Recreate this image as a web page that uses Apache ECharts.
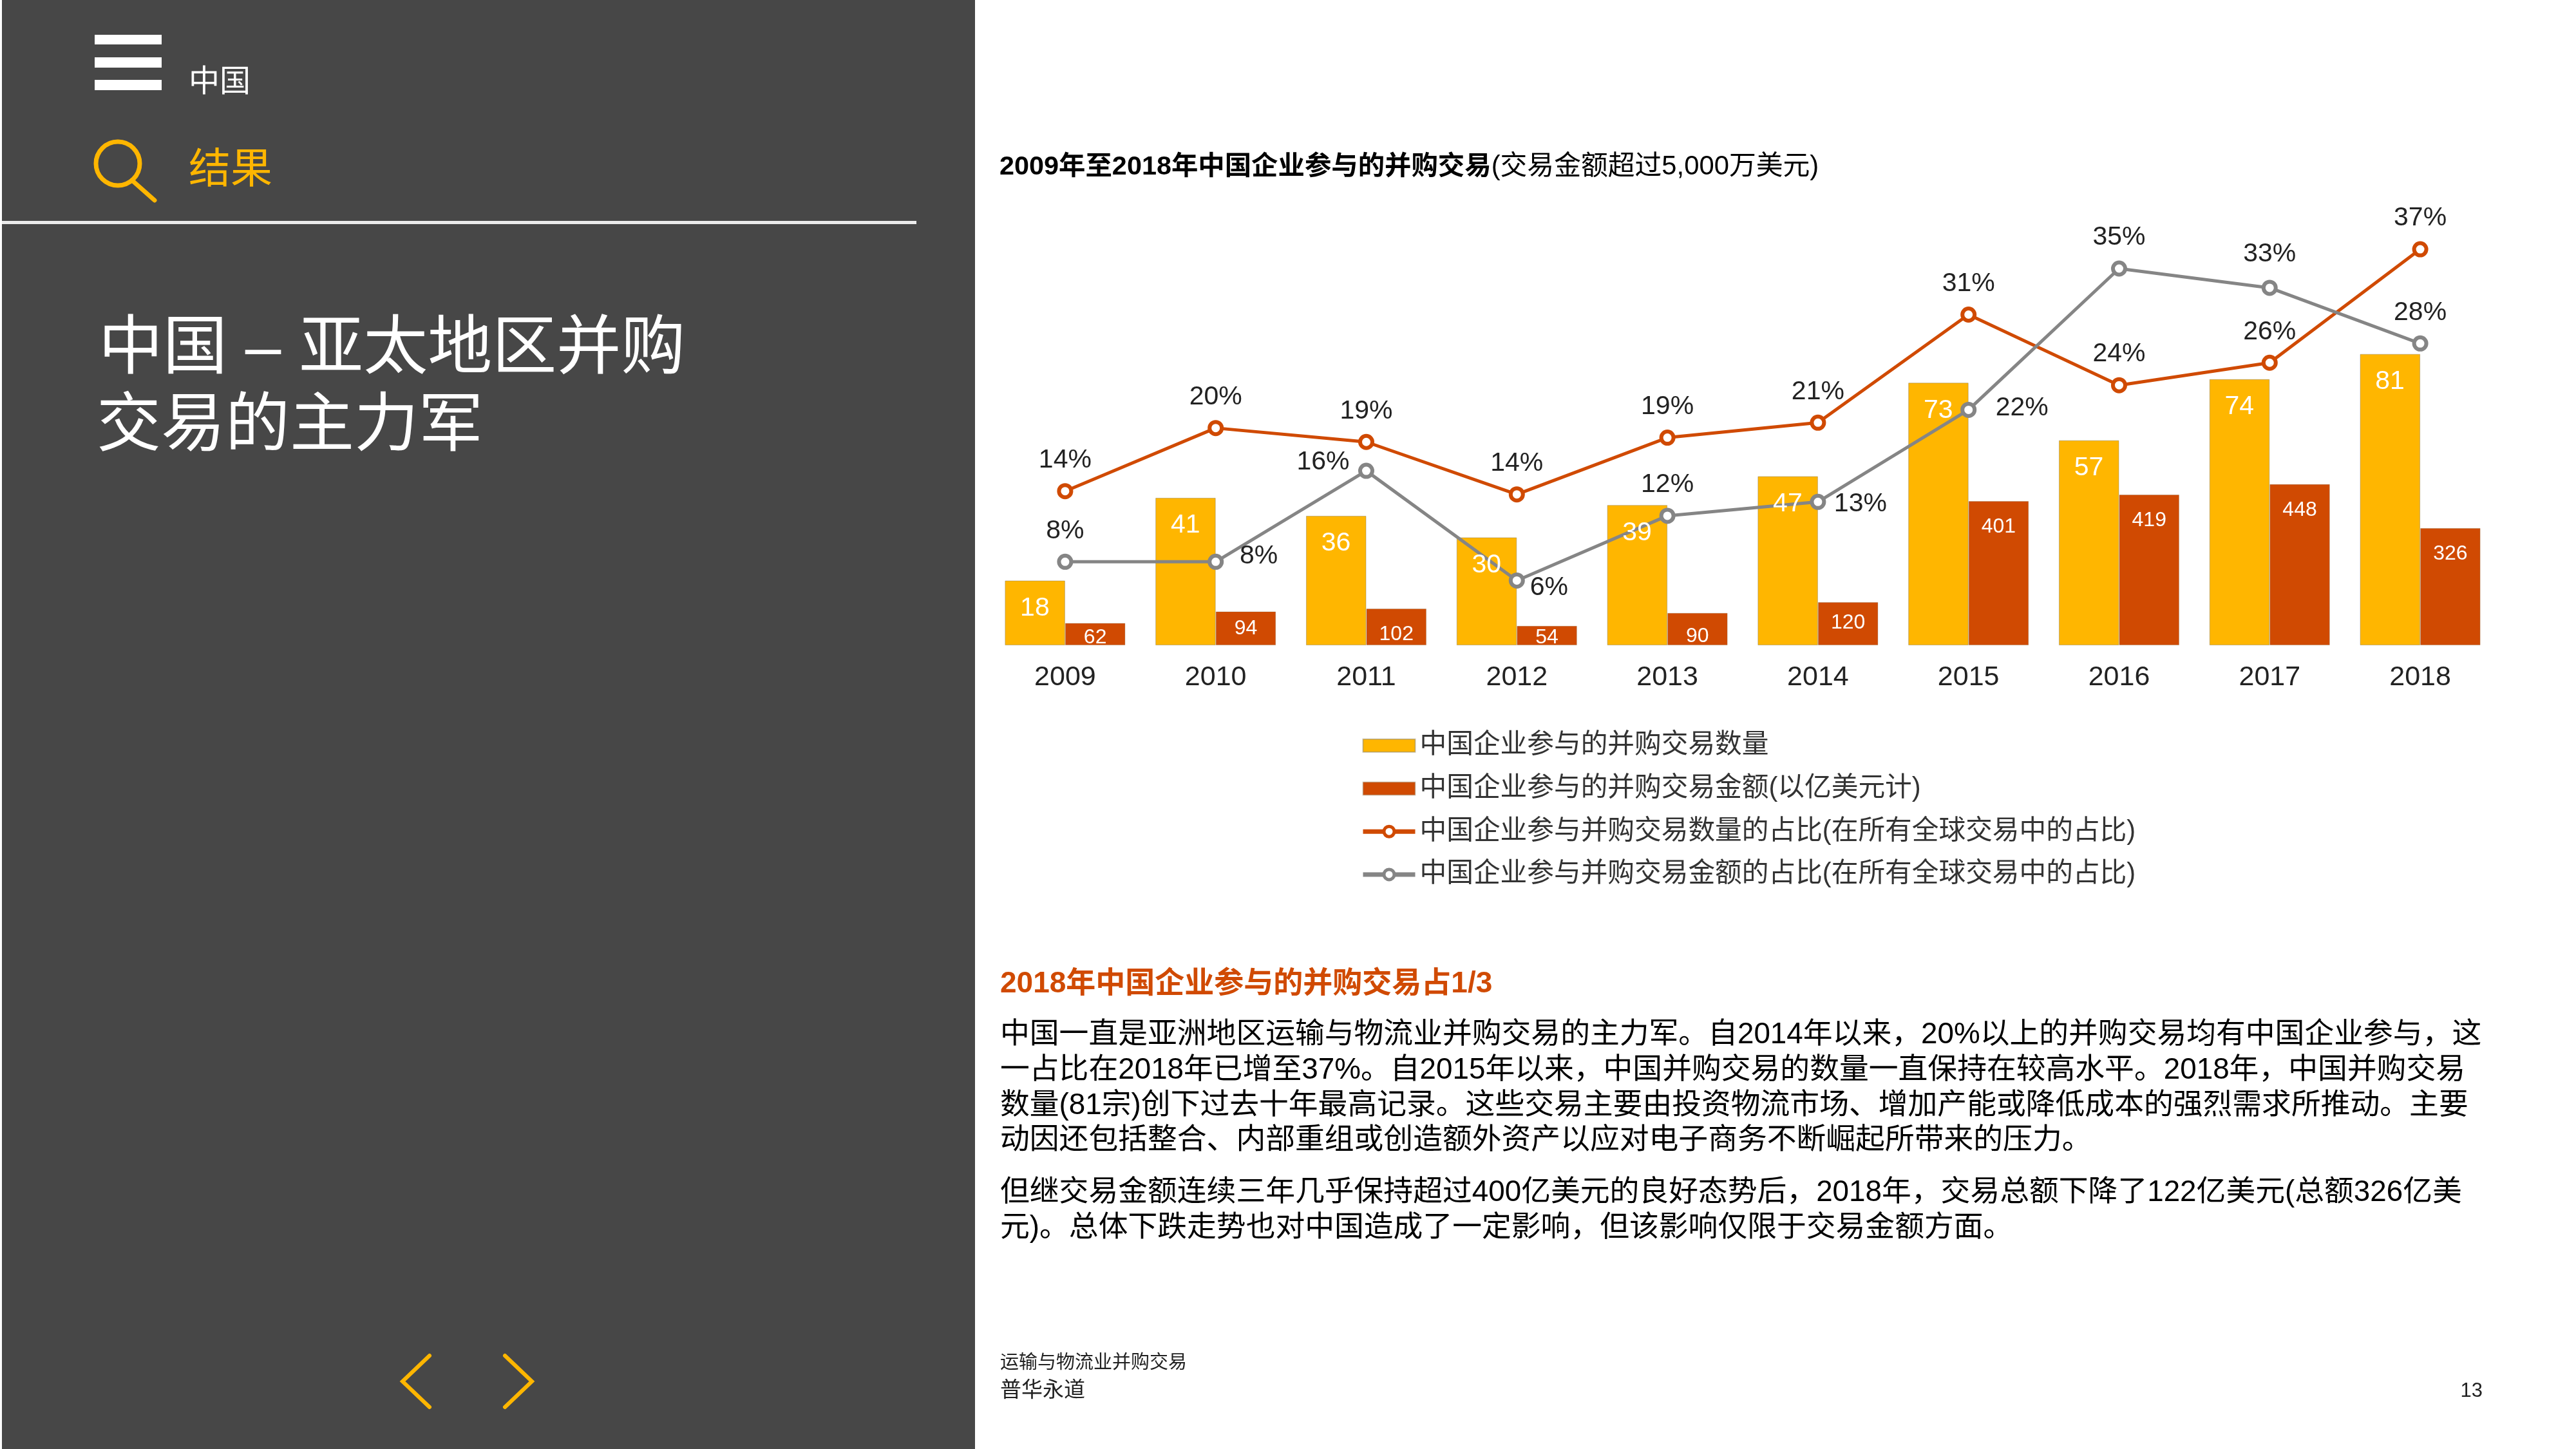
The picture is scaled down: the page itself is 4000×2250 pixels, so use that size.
<!DOCTYPE html>
<html>
<head>
<meta charset="utf-8">
<script src="https://cdn.jsdelivr.net/npm/echarts@6/dist/echarts.min.js"></script>
<style>html,body{margin:0;padding:0;background:#fff}#c{width:4000px;height:2250px}</style>
</head>
<body>
<div id="c"></div>
<script>
const years = ['2009','2010','2011','2012','2013','2014','2015','2016','2017','2018'];
const dealCount = [18,41,36,30,39,47,73,57,74,81];
const dealValue = [62,94,102,54,90,120,401,419,448,326];
const countShare = [14.4,20.3,19.0,14.1,19.4,20.8,30.9,24.3,26.4,37.0];
const valueShare = [7.8,7.8,16.3,6.05,12.1,13.4,22.0,35.2,33.4,28.2];

const nameCount = '中国企业参与的并购交易数量';
const nameValue = '中国企业参与的并购交易金额(以亿美元计)';
const nameCountShare = '中国企业参与并购交易数量的占比(在所有全球交易中的占比)';
const nameValueShare = '中国企业参与并购交易金额的占比(在所有全球交易中的占比)';

const valueLabelDistance = [7,11,24,2,20,16,24,24,24,24];
const valueShareLabelOffset = [[0,0],[67,39],[-67,35],[50,59],[0,0],[66,51],[83,45],[0,0],[0,-4],[0,0]];

const bodyLines = [
  ['中国一直是亚洲地区运输与物流业并购交易的主力军。自2014年以来，20%以上的并购交易均有中国企业参与，这',1607],
  ['一占比在2018年已增至37%。自2015年以来，中国并购交易的数量一直保持在较高水平。2018年，中国并购交易',1662],
  ['数量(81宗)创下过去十年最高记录。这些交易主要由投资物流市场、增加产能或降低成本的强烈需求所推动。主要',1717],
  ['动因还包括整合、内部重组或创造额外资产以应对电子商务不断崛起所带来的压力。',1771],
  ['但继交易金额连续三年几乎保持超过400亿美元的良好态势后，2018年，交易总额下降了122亿美元(总额326亿美',1852],
  ['元)。总体下跌走势也对中国造成了一定影响，但该影响仅限于交易金额方面。',1907]
];

const FONT = '"Liberation Sans","Noto Sans CJK SC",sans-serif';
const YELLOW = '#FFB600', ORANGE = '#D04A02', GRAY = '#858585', PANEL = '#474747';

function txt(text, x, y, size, color, extra) {
  return {type:'text', z:10, style:Object.assign({
    text, x, y, fill:color, fontFamily:FONT, fontSize:size,
    textAlign:'left', textVerticalAlign:'middle'
  }, extra||{})};
}
function rect(x,y,w,h,fill){return {type:'rect',z:1,shape:{x,y,width:w,height:h},style:{fill}};}
function poly(points,color,w){return {type:'polyline',z:5,shape:{points},style:{stroke:color,lineWidth:w,fill:null,lineCap:'round',lineJoin:'miter'}};}

const graphics = [
  rect(3,0,1511,2250,PANEL),
  rect(147,54,104,15,'#fff'), rect(147,89,104,16,'#fff'), rect(147,124,104,16,'#fff'),
  txt('中国',293,129,48,'#fff'),
  {type:'circle',z:5,shape:{cx:183,cy:254,r:34},style:{stroke:YELLOW,lineWidth:7,fill:null}},
  poly([[205,280],[240,311]],YELLOW,7),
  txt('结果',293,266,65,YELLOW),
  rect(3,343,1420,5,'#ececec'),
  txt('中国 – 亚太地区并购',153,544,100,'#fff'),
  txt('交易的主力军',150,664,100,'#fff'),
  poly([[667,2105],[625,2145],[667,2185]],YELLOW,6),
  poly([[784,2105],[826,2145],[784,2185]],YELLOW,6),
  txt('2018年中国企业参与的并购交易占1/3',1553,1528,46,ORANGE,{fontWeight:'bold'}),
  txt('运输与物流业并购交易',1553,2117,29,'#222'),
  txt('普华永道',1553,2160,33,'#222'),
  txt('13',3855,2160,31,'#222',{textAlign:'right'})
].concat(bodyLines.map(l=>txt(l[0],1553,l[1],45.8,'#000')));

const chart = echarts.init(document.getElementById('c'), null, {renderer:'canvas'});
chart.setOption({
  backgroundColor:'#fff',
  animation:false,
  textStyle:{fontFamily:FONT},
  title:{
    left:1552, top:239, padding:0,
    text:'{b|2009年至2018年中国企业参与的并购交易}{n|(交易金额超过5,000万美元)}',
    textStyle:{fontWeight:'normal',rich:{
      b:{fontFamily:FONT,fontSize:41.4,fontWeight:'bold',color:'#000'},
      n:{fontFamily:FONT,fontSize:41.8,fontWeight:'normal',color:'#000'}
    }}
  },
  legend:{
    orient:'vertical', left:2113, top:1137, padding:0,
    itemWidth:81, itemHeight:20, itemGap:25,
    data:[
      {name:nameCount,icon:'rect'},
      {name:nameValue,icon:'rect'},
      {name:nameCountShare,lineStyle:{width:7},itemStyle:{borderWidth:5}},
      {name:nameValueShare,lineStyle:{width:7},itemStyle:{borderWidth:5}}
    ],
    textStyle:{fontFamily:FONT,fontSize:41.7,color:'#333',padding:[0,0,0,2]}
  },
  grid:{left:1537,width:2338,top:304,height:698},
  xAxis:{type:'category',data:years,
    axisLine:{show:false},axisTick:{show:false},
    axisLabel:{fontFamily:FONT,fontSize:43,color:'#222',margin:29}},
  yAxis:[
    {type:'value',min:0,max:125,show:false,splitLine:{show:false}},
    {type:'value',min:0,max:1250,show:false,splitLine:{show:false}},
    {type:'value',min:0,max:42,show:false,splitLine:{show:false}}
  ],
  series:[
    {name:nameCount,type:'bar',yAxisIndex:0,barGap:0,barCategoryGap:'20%',
     data:dealCount,
     itemStyle:{color:YELLOW,borderColor:'rgba(130,120,90,0.45)',borderWidth:1}},
    {name:nameValue,type:'bar',yAxisIndex:1,
     data:dealValue.map((v,i)=>({value:v,label:{distance:valueLabelDistance[i]}})),
     itemStyle:{color:ORANGE,borderColor:'rgba(130,120,90,0.3)',borderWidth:1},
     label:{show:true,position:'insideTop',color:'#fff',fontFamily:FONT,fontSize:32}},
    {name:nameCountShare,type:'line',yAxisIndex:2,data:countShare,z:3,
     symbol:'circle',symbolSize:19,showAllSymbol:true,
     lineStyle:{color:ORANGE,width:5},
     itemStyle:{color:'#fff',borderColor:ORANGE,borderWidth:6},
     label:{show:true,position:'top',distance:15,color:'#222',fontFamily:FONT,fontSize:41,
       formatter:p=>Math.round(p.value)+'%'}},
    {name:nameValueShare,type:'line',yAxisIndex:2,z:3,
     data:valueShare.map((v,i)=>({value:v,label:{offset:valueShareLabelOffset[i]}})),
     symbol:'circle',symbolSize:19,showAllSymbol:true,
     lineStyle:{color:GRAY,width:5},
     itemStyle:{color:'#fff',borderColor:GRAY,borderWidth:6},
     label:{show:true,position:'top',distance:15,color:'#222',fontFamily:FONT,fontSize:41,
       formatter:p=>Math.round(p.value)+'%'}},
    {name:'countLabels',type:'line',yAxisIndex:0,z:6,data:dealCount,
     symbol:'circle',symbolSize:1,showAllSymbol:true,silent:true,
     lineStyle:{color:'transparent',width:0},
     itemStyle:{color:'transparent',borderWidth:0},
     label:{show:true,position:'bottom',distance:22,offset:[-47,0],color:'#fff',fontFamily:FONT,fontSize:41}}
  ],
  graphic:{elements:graphics}
});
</script>
</body>
</html>
